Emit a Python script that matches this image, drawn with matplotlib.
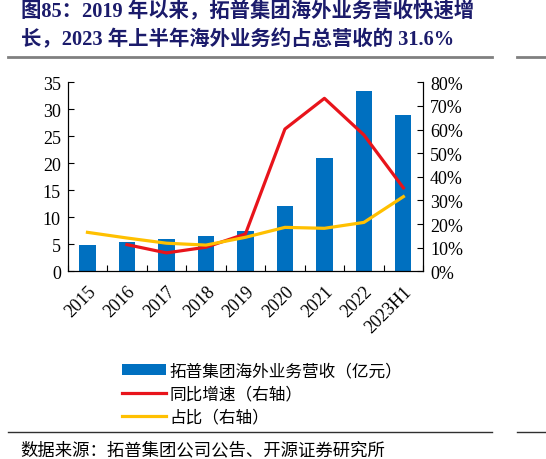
import numpy as np
import matplotlib
matplotlib.use("Agg")
import matplotlib.pyplot as plt
from matplotlib.patches import Patch
from matplotlib.lines import Line2D
from matplotlib.ticker import MultipleLocator, FuncFormatter

plt.rcParams['font.family'] = ['Liberation Serif', 'Noto Sans CJK SC', 'DejaVu Sans']

## data
years = ["2015", "2016", "2017", "2018", "2019", "2020", "2021", "2022", "2023H1"]
revenue = [4.95, 5.5, 5.95, 6.55, 7.55, 12.15, 21.05, 33.3, 28.9]      # 亿元
growth = [np.nan, 11.3, 7.8, 10.2, 15.8, 60.2, 73.2, 57.7, 35.3]       # %
share = [16.5, 14.1, 11.9, 11.1, 14.4, 18.6, 18.2, 20.7, 31.6]         # %

title = "图85：2019 年以来，拓普集团海外业务营收快速增\n长，2023 年上半年海外业务约占总营收的 31.6%"
labels = ["拓普集团海外业务营收（亿元）", "同比增速（右轴）", "占比（右轴）"]
source = "数据来源：拓普集团公司公告、开源证券研究所"

blue = "#0070C0"
red = "#E8141B"
yellow = "#FFC000"
navy = "#1B1B6B"
cjk = ['Noto Sans CJK SC', 'DejaVu Sans']

fig = plt.figure(figsize=(5.46, 4.60), dpi=100)
ax = fig.add_axes([0.124, 0.408, 0.651, 0.411])
ax2 = ax.twinx()

x = np.arange(len(years))
ax.bar(x, revenue, width=0.41, color=blue, zorder=2)
ax2.plot(x, growth, color=red, lw=2.3, zorder=3)
ax2.plot(x, share, color=yellow, lw=2.3, zorder=3)

ax.set_xlim(-0.5, len(years) - 0.5)
ax.set_ylim(0, 35)
ax2.set_ylim(0, 80)
ax.yaxis.set_major_locator(MultipleLocator(5))
ax2.yaxis.set_major_locator(MultipleLocator(10))
ax2.yaxis.set_major_formatter(FuncFormatter(lambda v, p: f"{v:.0f}%"))

ax.set_xticks(x)
ax.set_xticklabels(years, rotation=45, ha='right', va='top', rotation_mode='anchor')
ax.set_xticks(np.arange(-0.5, len(years)), minor=True)
ax.tick_params(axis='x', which='major', length=0, pad=8, labelsize=13)
ax.tick_params(axis='x', which='minor', direction='in', length=4, width=0.8)
ax.tick_params(axis='y', direction='in', length=4, width=0.8, labelsize=13, pad=5)
ax2.tick_params(axis='y', direction='in', length=4, width=0.8, labelsize=13, pad=5)

for a in (ax, ax2):
    a.spines['top'].set_visible(False)
    for s in ('left', 'right', 'bottom'):
        a.spines[s].set_linewidth(0.8)

# legend below the plot
handles = [Patch(facecolor=blue, edgecolor='none'),
           Line2D([0], [0], color=red, lw=2.3),
           Line2D([0], [0], color=yellow, lw=2.3)]
fig.legend(handles, labels, loc='upper left', bbox_to_anchor=(0.212, 0.225),
           frameon=False, prop={'family': cjk, 'size': 12},
           handlelength=2.6, handletextpad=0.2, labelspacing=0.38,
           borderaxespad=0)

# title and rules
fig.text(0.038, 0.995, title, color=navy, fontsize=14.7, fontweight='bold',
         va='top', ha='left', linespacing=1.45)
fig.add_artist(Line2D([0.015, 0.902], [0.874, 0.874], color='#808080', lw=2))
fig.add_artist(Line2D([0.947, 1.0], [0.874, 0.874], color='#808080', lw=2))
fig.add_artist(Line2D([0.015, 0.902], [0.059, 0.059], color='#303030', lw=1))
fig.add_artist(Line2D([0.947, 1.0], [0.059, 0.059], color='#303030', lw=1))
fig.text(0.037, 0.021, source, fontsize=12.5, family=cjk, va='center', ha='left')

fig.savefig("out.png", dpi=100)
